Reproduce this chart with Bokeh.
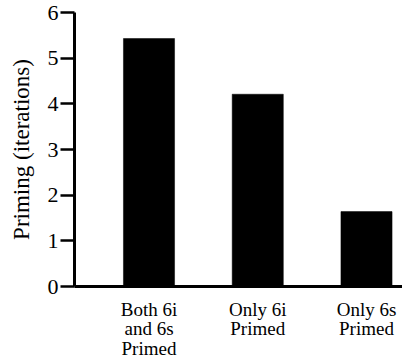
from bokeh.plotting import figure
from bokeh.models import FixedTicker, Range1d
from bokeh.embed import file_html
from bokeh.resources import INLINE

categories = ["Both 6i\nand 6s\nPrimed", "Only 6i\nPrimed", "Only 6s\nPrimed"]
positions = [1, 2, 3]
priming = [5.43, 4.21, 1.64]
y_ticks = [0, 1, 2, 3, 4, 5, 6]

FONT = "Liberation Serif"

p = figure(width=402, height=361, output_backend="svg", toolbar_location=None,
           x_range=Range1d(0.315, 3.331), y_range=Range1d(0, 6),
           min_border_left=74, min_border_top=12, min_border_right=0, min_border_bottom=74)
p.outline_line_color = None
p.xgrid.visible = False
p.ygrid.visible = False

p.vbar(x=positions, top=priming, bottom=0, width=0.47, fill_color="black", line_color="black", line_width=0.5)

# y axis
ya = p.yaxis[0]
ya.ticker = FixedTicker(ticks=y_ticks)
ya.axis_line_width = 3
ya.axis_line_color = "black"
ya.major_tick_line_width = 2.5
ya.major_tick_line_color = "black"
ya.major_tick_out = 14
ya.major_tick_in = 0
ya.minor_tick_line_color = None
ya.major_label_standoff = 2
ya.major_label_text_font = FONT
ya.major_label_text_font_size = "22px"
ya.major_label_text_color = "black"
ya.axis_label = "Priming (iterations)"
ya.axis_label_text_font = FONT
ya.axis_label_text_font_size = "23px"
ya.axis_label_text_font_style = "normal"
ya.axis_label_text_color = "black"
ya.axis_label_standoff = 11

# x axis
xa = p.xaxis[0]
xa.ticker = FixedTicker(ticks=positions)
xa.major_label_overrides = {pos: lab for pos, lab in zip(positions, categories)}
xa.axis_line_width = 3
xa.axis_line_color = "black"
xa.major_tick_line_color = None
xa.minor_tick_line_color = None
xa.major_tick_out = 0
xa.major_tick_in = 0
xa.major_label_standoff = 12
xa.major_label_text_font = FONT
xa.major_label_text_font_size = "19px"
xa.major_label_text_color = "black"
xa.major_label_text_line_height = 0.93

open("out.html", "w").write(file_html(p, INLINE))
